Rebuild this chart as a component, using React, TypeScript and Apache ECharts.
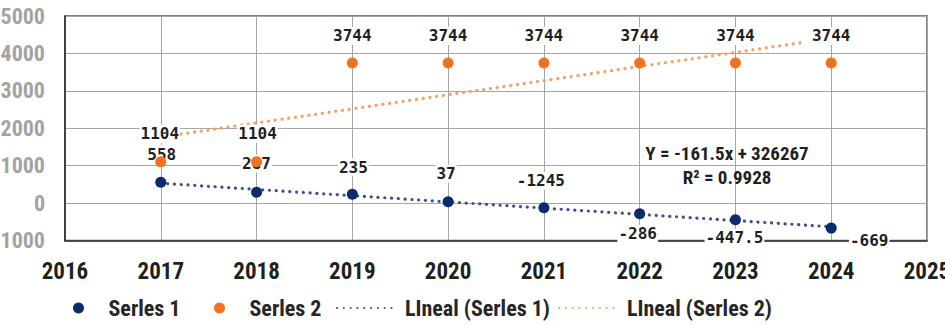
import React, { useEffect, useRef } from "react";
import * as echarts from "echarts";

// Years on the horizontal value axis
const years = [2017, 2018, 2019, 2020, 2021, 2022, 2023, 2024];

// Serles 1 values and the texts printed beside them
const serie1 = [558, 287, 235, 37, -124.5, -286, -447.5, -669];
const serie1Labels = ["558", "287", "235", "37", "-1245", "-286", "-447.5", "-669"];

// Serles 2 values
const serie2 = [1104, 1104, 3744, 3744, 3744, 3744, 3744, 3744];

// Axis extents
const xMin = 2016;
const xMax = 2025;
const yMin = -1000;
const yMax = 5000;
const yStep = 1000;

// Span of each fitted trend line (in years)
const trend1Span = [2017, 2024];
const trend2Span = [2017, 2023.7];

// Trend-line caption for Serles 1
const equationText = "Y = -161.5x + 326267";
const r2Text = "R\u00B2 = 0.9928";

// Label nudges (pixels) relative to each point
const serie1LabelOffsets = [
  [1, -28], [0, -29], [1, -27], [-2, -28], [-3, -27], [-2, 20], [-1, 18], [38, 12],
];
const serie2LabelOffsets = [
  [-1, -28], [1, -28], [0, -27], [0, -27], [0, -27], [0, -27], [0, -27], [0, -27],
];

const NARROW =
  "'Roboto Condensed', 'Noto Sans Condensed', 'DejaVu Sans Condensed', 'Liberation Sans Narrow', 'Liberation Sans', sans-serif";
const MONO = "'DejaVu Sans Mono', monospace";

const BLUE = "#0c2a6e";
const BLUE_TREND = "#3f4f96";
const ORANGE = "#f4721f";
const ORANGE_TREND = "#f8a064";

// Ordinary least squares fit y = a + b x
function fit(xs: number[], ys: number[]) {
  const n = xs.length;
  const mx = xs.reduce((s, v) => s + v, 0) / n;
  const my = ys.reduce((s, v) => s + v, 0) / n;
  let sxy = 0;
  let sxx = 0;
  for (let i = 0; i < n; i++) {
    sxy += (xs[i] - mx) * (ys[i] - my);
    sxx += (xs[i] - mx) * (xs[i] - mx);
  }
  const b = sxy / sxx;
  const a = my - b * mx;
  return (x: number) => a + b * x;
}

export default function App() {
  const ref = useRef<HTMLDivElement>(null);

  useEffect(() => {
    if (!ref.current) return;
    const chart = echarts.init(ref.current, undefined, { renderer: "svg" });

    const f1 = fit(years, serie1);
    const f2 = fit(years, serie2);

    const dotted = (color: string) => ({
      color,
      width: 3.2,
      type: [0.1, 6.7] as number[],
      cap: "round" as const,
    });

    const pointLabel = {
      show: true,
      position: "inside" as const,
      fontFamily: MONO,
      fontWeight: "bold" as const,
      fontSize: 16,
      color: "#1f1f1f",
      backgroundColor: "#ffffff",
      padding: [1, 1],
    };

    const legendText = {
      fontFamily: NARROW,
      fontWeight: "bold" as const,
      fontSize: 22,
      color: "#262626",
    };

    const lineLegend = (name: string, left: number) => ({
      data: [name],
      left,
      top: 297,
      padding: 0,
      itemWidth: 57,
      itemHeight: 11,
      selectedMode: false,
      itemStyle: { color: "rgba(0,0,0,0)", borderWidth: 0 },
      textStyle: { ...legendText, padding: [0, 0, 0, 6] },
    });

    const dotLegend = (name: string, left: number) => ({
      data: [name],
      left,
      top: 297,
      padding: 0,
      itemWidth: 50,
      itemHeight: 11,
      icon: "circle",
      selectedMode: false,
      textStyle: legendText,
    });

    const option: echarts.EChartsCoreOption = {
      animation: false,
      grid: {
        left: 65,
        right: 18,
        top: 16,
        bottom: 84.5,
        show: true,
        borderColor: "#595959",
        borderWidth: 1.5,
        outerBoundsMode: "none",
      },
      xAxis: {
        type: "value",
        min: xMin,
        max: xMax,
        interval: 1,
        axisLine: { show: true, onZero: false, lineStyle: { color: "#262626", width: 1.5 } },
        axisTick: { show: false },
        splitLine: { show: true, lineStyle: { color: "#a6a6a6", width: 1 } },
        axisLabel: {
          formatter: (v: number) => String(v),
          fontFamily: NARROW,
          fontWeight: "bold",
          fontSize: 23,
          color: "#1f1f1f",
          margin: 19,
        },
      },
      yAxis: {
        type: "value",
        min: yMin,
        max: yMax,
        interval: yStep,
        axisLine: { show: true, onZero: false, lineStyle: { color: "#262626", width: 1.5 } },
        axisTick: { show: false },
        splitLine: { show: true, lineStyle: { color: "#a6a6a6", width: 1 } },
        axisLabel: {
          // the lowest tick is printed as its magnitude
          formatter: (v: number) => String(Math.abs(v)),
          fontFamily: NARROW,
          fontWeight: "bold",
          fontSize: 22,
          color: "#a3a3a3",
          margin: 20,
        },
      },
      legend: [
        dotLegend("Serles 1", 73),
        dotLegend("Serles 2", 214),
        lineLegend("LIneal (Serles 1)", 336),
        lineLegend("LIneal (Serles 2)", 558),
      ],
      series: [
        {
          name: "LIneal (Serles 1)",
          type: "line",
          z: 2,
          silent: true,
          symbol: "none",
          color: BLUE_TREND,
          lineStyle: dotted(BLUE_TREND),
          data: trend1Span.map((x) => [x, f1(x)]),
        },
        {
          name: "Serles 1",
          type: "scatter",
          z: 3,
          symbolSize: 11,
          itemStyle: { color: BLUE, opacity: 1 },
          label: {
            ...pointLabel,
            formatter: (p: any) => serie1Labels[p.dataIndex],
          },
          data: years.map((x, i) => ({
            value: [x, serie1[i]],
            label: { offset: serie1LabelOffsets[i] },
          })),
        },
        {
          name: "LIneal (Serles 2)",
          type: "line",
          z: 4,
          silent: true,
          symbol: "none",
          color: ORANGE_TREND,
          lineStyle: dotted(ORANGE_TREND),
          data: trend2Span.map((x) => [x, f2(x)]),
        },
        {
          name: "Serles 2",
          type: "scatter",
          z: 5,
          symbolSize: 11,
          itemStyle: { color: ORANGE, opacity: 1 },
          label: {
            ...pointLabel,
            formatter: (p: any) => String(serie2[p.dataIndex]),
          },
          data: years.map((x, i) => ({
            value: [x, serie2[i]],
            label: { offset: serie2LabelOffsets[i] },
          })),
        },
      ],
      graphic: [
        {
          type: "text",
          x: 727,
          y: 153,
          z: 100,
          style: {
            text: equationText,
            fill: "#1f1f1f",
            font: `bold 19px ${NARROW}`,
            align: "center",
            verticalAlign: "middle",
          },
        },
        {
          type: "text",
          x: 727,
          y: 177,
          z: 100,
          style: {
            text: r2Text,
            fill: "#1f1f1f",
            font: `bold 19px ${NARROW}`,
            align: "center",
            verticalAlign: "middle",
          },
        },
      ],
    };

    chart.setOption(option);
    return () => chart.dispose();
  }, []);

  return (
    <div
      ref={ref}
      style={{ position: "absolute", left: 0, top: 0, width: 945, height: 325 }}
    />
  );
}
